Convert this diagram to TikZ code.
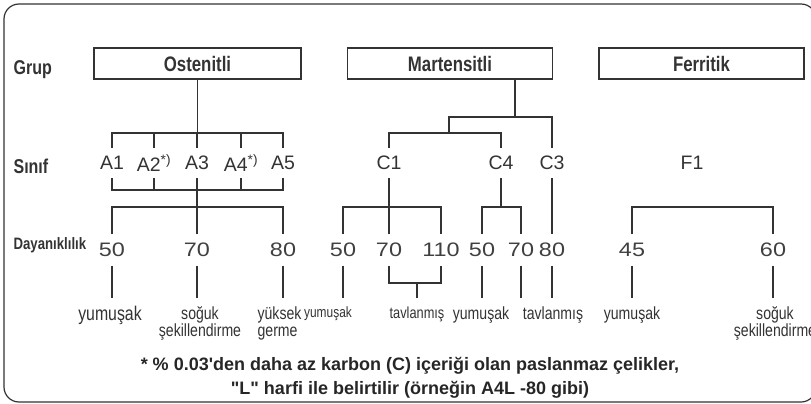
\documentclass[tikz,border=0pt]{standalone}
\usepackage{fontspec}
\setmainfont[FakeStretch=0.8]{Liberation Sans}
\newfontfamily\numfont[FakeStretch=1.2]{Liberation Sans}
\newfontfamily\clsfont{Liberation Sans}
\newfontfamily\notefont{Liberation Sans}
\usetikzlibrary{calc,positioning}

\tikzset{
  grpbox/.style={draw, minimum height=31pt, inner sep=0pt,
    font=\fontsize{21}{24}\selectfont\bfseries},
  rowlbl/.style={anchor=west, inner sep=0pt, font=\fontsize{20}{23}\selectfont\bfseries},
  cls/.style={minimum height=29pt, inner sep=0pt, text=black!80,
    font=\clsfont\fontsize{19.5}{22}\selectfont},
  num/.style={minimum height=30pt, inner sep=0pt, text=black!75,
    font=\numfont\fontsize{19.5}{22}\selectfont},
  lbl/.style={anchor=north, inner xsep=0pt, inner ysep=8pt, text=black!80,
    font=\fontsize{17.6}{17}\selectfont},
}

\begin{document}
\begin{tikzpicture}[x=1pt, y=-1pt, line width=1.2pt, color=black!80]
  \useasboundingbox (0,0) rectangle (811,404);
  \draw[rounded corners=15pt] (4,4) rectangle (816,402);
  % row titles
  \node[rowlbl] (tgrup) at (13,70) {Grup};
  \node[rowlbl] (tsinif) at (13,166) {Sınıf};
  \node[rowlbl, font=\fontsize{16.5}{19}\selectfont\bfseries] (tday) at (13,245) {Dayanıklılık};
  % groups
  \node[grpbox, minimum width=207pt] (ost) at (197.5,63.5) {Ostenitli};
  \node[grpbox, minimum width=205pt] (mar) at (450,63.5) {Martensitli};
  \node[grpbox, minimum width=205pt] (fer) at (701.5,63.5) {Ferritik};
  % classes
  \node[cls] (a1) at (112,163) {A1};
  \node[cls] (a2) at (154,163) {A2\textsuperscript{*)}};
  \node[cls] (a3) at (197,163) {A3};
  \node[cls] (a4) at (241,163) {A4\textsuperscript{*)}};
  \node[cls] (a5) at (283,163) {A5};
  \node[cls] (c1) at (389,163) {C1};
  \node[cls] (c4) at (501,163) {C4};
  \node[cls] (c3) at (552,163) {C3};
  \node[cls] (f1) at (692,163) {F1};
  % strength classes
  \node[num] (o50) at (112,250) {50};
  \node[num] (o70) at (197,250) {70};
  \node[num] (o80) at (283,250) {80};
  \node[num] (m50) at (343,250) {50};
  \node[num] (m70) at (389,250) {70};
  \node[num] (m110) at (441,250) {110};
  \node[num] (n50) at (482,250) {50};
  \node[num] (n70) at (521,250) {70};
  \node[num] (n80) at (552,250) {80};
  \node[num] (f45) at (632,250) {45};
  \node[num] (f60) at (773,250) {60};
  % states
  \node[lbl, font=\fontsize{19.8}{17}\selectfont] (oyum) at (110,298) {yumuşak};
  \node[lbl, align=center] (osog) at (200,298) {soğuk\\şekillendirme};
  \node[lbl, anchor=north west, align=left] (oyuk) at (257,298) {yüksek\\germe};
  \node[lbl, font=\fontsize{14.9}{17}\selectfont] (myum) at (328,298) {yumuşak};
  \node[lbl, font=\fontsize{16}{17}\selectfont] (mtav) at (417,298) {tavlanmış};
  \node[lbl] (nyum) at (481,298) {yumuşak};
  \node[lbl] (ntav) at (553,298) {tavlanmış};
  \node[lbl] (fyum) at (632,298) {yumuşak};
  \node[lbl, align=center] (fsog) at (775,298) {soğuk\\şekillendirme};
  % footnote
  \node[anchor=north, inner sep=0pt, align=center, text=black!85,
    font=\notefont\fontsize{18}{24}\selectfont\bfseries] (note) at (410,357)
    {* \% 0.03\textquotesingle den daha az karbon (C) içeriği olan paslanmaz çelikler,\\
     \textquotedbl L\textquotedbl{} harfi ile belirtilir (örneğin A4L -80 gibi)};

  % bar heights
  \coordinate (barA) at (0,133);
  \coordinate (barB) at (0,190);
  \coordinate (barC) at (0,207);
  \coordinate (barD) at (0,283);
  \coordinate (mjoin) at (515,117);
  \coordinate (cjoin) at (449,117);

  % Ostenitli tree
  \draw (ost.south) -- (ost.south |- barA);
  \draw (a1.north) |- (a5.north |- barA) -- (a5.north);
  \draw (a1.south) |- (a5.south |- barB) -- (a5.south);
  \foreach \n in {a2,a3,a4}
    \draw (\n.north) -- (\n.north |- barA);
  \foreach \n in {a2,a4}
    \draw (\n.south) -- (\n.south |- barB);
  \draw (a3.south) -- (a3.south |- barC);
  \draw (o50.north) |- (o80.north |- barC) -- (o80.north);
  \draw (o70.north) -- (o70.north |- barC);
  \draw (o50.south) -- (o50.south |- oyum.north);
  \draw (o70.south) -- (o70.south |- osog.north);
  \draw (o80.south) -- (o80.south |- oyuk.north);

  % Martensitli tree
  \draw (mjoin |- mar.south) -- (mjoin);
  \draw (c3.north) |- (cjoin) -- (cjoin |- barA);
  \draw (c1.north) |- (c4.north |- barA) -- (c4.north);
  \draw (c1.south) -- (c1.south |- barC);
  \draw (m50.north) |- (m110.north |- barC) -- (m110.north);
  \draw (m70.north) -- (m70.north |- barC);
  \draw (c4.south) -- (c4.south |- barC);
  \draw (n50.north) |- (n70.north |- barC) -- (n70.north);
  \draw (c3.south) -- (n80.north);
  \draw (m50.south) -- (m50.south |- myum.north);
  \draw (m70.south) |- (m110.south |- barD) -- (m110.south);
  \draw (mtav.north) -- (mtav.north |- barD);
  \draw (n50.south) -- (n50.south |- nyum.north);
  \draw (n70.south) -- (n70.south |- ntav.north);
  \draw (n80.south) -- (n80.south |- ntav.north);

  % Ferritik tree
  \draw (f45.north) |- (f60.north |- barC) -- (f60.north);
  \draw (f45.south) -- (f45.south |- fyum.north);
  \draw (f60.south) -- (f60.south |- fsog.north);
\end{tikzpicture}
\end{document}
